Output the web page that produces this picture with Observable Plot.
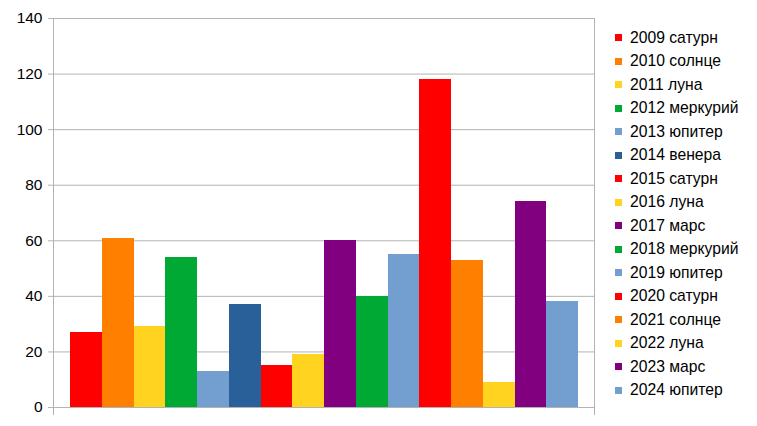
<!DOCTYPE html>
<html>
<head>
<meta charset="utf-8">
<script src="https://cdn.jsdelivr.net/npm/d3@7"></script>
<script src="https://cdn.jsdelivr.net/npm/@observablehq/plot@0.6"></script>
<style>
  html, body { margin: 0; padding: 0; background: #fff; }
  #wrap { position: relative; width: 757px; height: 426px; font-family: "Liberation Sans", Arial, sans-serif; }
  #legend { position: absolute; left: 615px; top: 26px; }
  .item { display: flex; align-items: center; height: 23.5px; font-size: 15.7px; color: #000; white-space: nowrap; }
  .sw { width: 7px; height: 7px; margin-right: 8px; }
</style>
</head>
<body>
<div id="wrap"><div id="legend"></div></div>
<script>
const series = ["2009 сатурн","2010 солнце","2011 луна","2012 меркурий","2013 юпитер","2014 венера","2015 сатурн","2016 луна","2017 марс","2018 меркурий","2019 юпитер","2020 сатурн","2021 солнце","2022 луна","2023 марс","2024 юпитер"];
const values = [27, 61, 29, 54, 13, 37, 15, 19, 60, 40, 55, 118, 53, 9, 74, 38];
const yTicks = [0, 20, 40, 60, 80, 100, 120, 140];
const palette = ["#ff0000","#ff8000","#ffd320","#00a933","#729fcf","#2a6099","#ff0000","#ffd320","#800080","#00a933","#729fcf","#ff0000","#ff8000","#ffd320","#800080","#729fcf"];

const data = series.map((s, i) => ({label: s, value: values[i], color: palette[i]}));
const grid = "#b3b3b3";

const sideLines = (index, scales, vals, dims) => {
  const g = d3.create("svg:g").attr("stroke", grid).attr("stroke-width", 1);
  const y0 = scales.y(0), yTop = scales.y(140);
  for (const x of [dims.marginLeft + 0.5, dims.width - dims.marginRight + 0.5]) {
    g.append("line").attr("x1", x).attr("x2", x).attr("y1", yTop).attr("y2", y0 + 8);
  }
  return g.node();
};

const chart = Plot.plot({
  width: 757,
  height: 426,
  marginTop: 18,
  marginBottom: 19,
  marginLeft: 53,
  marginRight: 163,
  style: { fontFamily: "Liberation Sans, Arial, sans-serif", fontSize: "15.5px", color: "#000", background: "transparent" },
  x: { type: "band", domain: series, padding: 0, round: false, insetLeft: 17, insetRight: 16, axis: null },
  y: { domain: [0, 140], ticks: yTicks, label: null, tickSize: 0 },
  color: { type: "identity" },
  marks: [
    Plot.ruleY(yTicks, { stroke: grid, strokeWidth: 1, insetLeft: -5 }),
    Plot.axisY({ ticks: yTicks, tickSize: 0, tickPadding: 11, label: null, fontSize: 15.5 }),
    Plot.barY(data, { x: "label", y: "value", fill: "color", inset: 0, shapeRendering: "crispEdges" }),
    sideLines
  ]
});
document.getElementById("wrap").prepend(chart);

const legend = document.getElementById("legend");
series.forEach((s, i) => {
  const it = document.createElement("div");
  it.className = "item";
  const sw = document.createElement("div");
  sw.className = "sw";
  sw.style.background = palette[i];
  const t = document.createElement("span");
  t.textContent = s;
  it.appendChild(sw); it.appendChild(t);
  legend.appendChild(it);
});
</script>
</body>
</html>
